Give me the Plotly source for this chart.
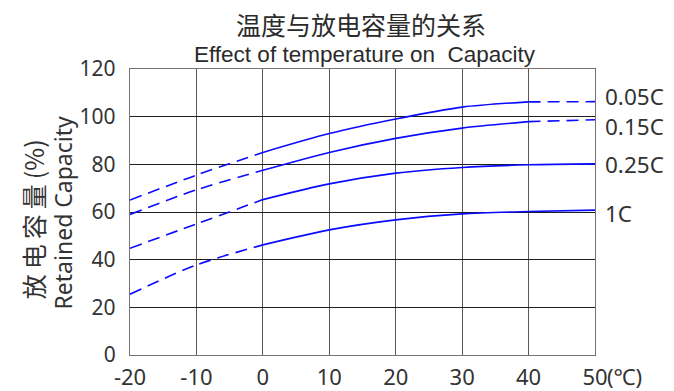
import plotly.graph_objects as go

# Temperature (°C) sample points
temps = [-20, -10, 0, 10, 20, 30, 40, 50]

# Retained capacity (%) for each discharge rate
cap_005c = [65.0, 75.5, 85.0, 92.9, 99.0, 104.0, 106.2, 106.3]
cap_015c = [59.0, 69.3, 77.5, 85.0, 90.9, 95.2, 97.9, 98.7]
cap_025c = [44.8, 55.0, 65.2, 71.8, 76.3, 78.7, 79.8, 80.2]
cap_1c = [25.5, 37.8, 46.2, 52.5, 56.7, 59.2, 60.2, 60.8]

rate_labels = ["0.05C", "0.15C", "0.25C", "1C"]
# temperature span drawn as a solid line; outside it the curve is dashed
solid_spans = [(0, 40), (0, 40), (0, 50), (0, 50)]
# vertical placement of the rate labels on the right
label_y = [108.4, 95.9, 79.8, 59.3]

x_ticks = [-20, -10, 0, 10, 20, 30, 40, 50]
y_ticks = [0, 20, 40, 60, 80, 100, 120]

BLUE = "#0a0aff"
TXT = "#333333"
SANS = "Noto Sans, Open Sans, sans-serif"
Y_TICK_FONT = dict(family=SANS, size=21, color=TXT)
X_TICK_FONT = dict(family=SANS, size=22, color=TXT)
LABEL_FONT = dict(family=SANS, size=22.5, color=TXT)

fig = go.Figure()

series = [cap_005c, cap_015c, cap_025c, cap_1c]
for vals, (lo, hi) in zip(series, solid_spans):
    segs = []
    left = [(t, v) for t, v in zip(temps, vals) if t <= lo]
    mid = [(t, v) for t, v in zip(temps, vals) if lo <= t <= hi]
    right = [(t, v) for t, v in zip(temps, vals) if t >= hi]
    if len(left) > 1:
        segs.append((left, "12px,7px"))
    segs.append((mid, "solid"))
    if len(right) > 1:
        segs.append((right, "12px,7px"))
    for pts, dash in segs:
        fig.add_trace(go.Scatter(
            x=[p[0] for p in pts], y=[p[1] for p in pts],
            mode="lines",
            line=dict(color=BLUE, width=1.6, dash=dash, shape="spline", smoothing=0.8),
            showlegend=False, hoverinfo="skip",
        ))

for lab, yv in zip(rate_labels, label_y):
    fig.add_annotation(x=50, y=yv, xref="x", yref="y", text=lab, showarrow=False,
                       xanchor="left", yanchor="middle", xshift=8, font=LABEL_FONT)

# unit after the last temperature tick
fig.add_annotation(x=50, y=-0.072, xref="x", yref="paper", text="(℃)", showarrow=False,
                   xanchor="left", yanchor="middle", xshift=10, font=X_TICK_FONT)

# titles
fig.add_annotation(x=0.497, y=1.157, xref="paper", yref="paper", text="温度与放电容量的关系",
                   showarrow=False, xanchor="center", yanchor="middle",
                   font=dict(family="Noto Sans CJK SC", size=25, color="#2b2b2b"))
fig.add_annotation(x=0.506, y=1.049, xref="paper", yref="paper",
                   text="Effect of temperature on  Capacity",
                   showarrow=False, xanchor="center", yanchor="middle",
                   font=dict(family="Liberation Sans, Arial, sans-serif",
                             size=22.5, color="#2b2b2b"))

# y-axis title, two rotated lines
fig.add_annotation(x=-0.2086, y=0.475, xref="paper", yref="paper",
                   text="放\u2009电\u2009容\u2009量\u2009(%)",
                   showarrow=False, textangle=-90, xanchor="center", yanchor="middle",
                   font=dict(family="Noto Sans CJK SC", size=25, color=TXT))
fig.add_annotation(x=-0.144, y=0.495, xref="paper", yref="paper", text="Retained Capacity",
                   showarrow=False, textangle=-90, xanchor="center", yanchor="middle",
                   font=dict(family=SANS, size=23, color=TXT))

fig.update_layout(
    width=674, height=391,
    margin=dict(l=130, r=79, t=69, b=36),
    paper_bgcolor="white", plot_bgcolor="white",
    xaxis=dict(range=[-20, 50], tickmode="array", tickvals=x_ticks,
               ticktext=[str(v) for v in x_ticks], automargin=False,
               showgrid=True, gridcolor="#5e5656", gridwidth=1.3,
               showline=True, linecolor="#7a7272", linewidth=1.3, mirror=True,
               zeroline=False, ticks="", ticklabelstandoff=2, tickfont=X_TICK_FONT),
    yaxis=dict(range=[0, 120], tickmode="array", tickvals=y_ticks, automargin=False,
               showgrid=True, gridcolor="#1e1e1e", gridwidth=1.1,
               showline=True, linecolor="#7a7272", linewidth=1.3, mirror=True,
               zeroline=False, ticks="", ticklabelstandoff=9, tickfont=Y_TICK_FONT),
)

fig.write_html("out.html")
